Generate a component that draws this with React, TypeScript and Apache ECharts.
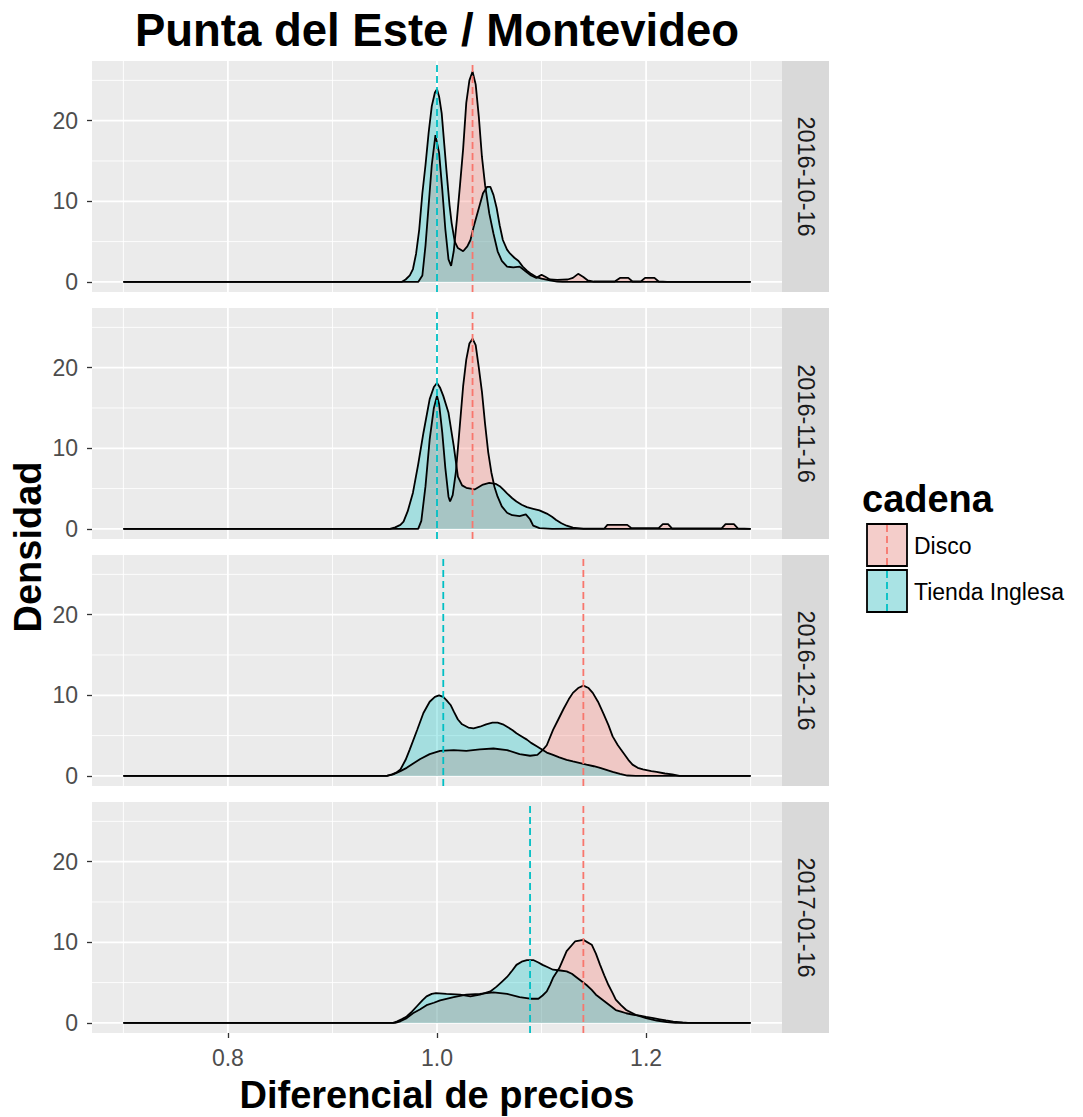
import React, { useEffect, useRef } from "react";
import * as echarts from "echarts";

// ---------- data ----------
const panels = ["2016-10-16", "2016-11-16", "2016-12-16", "2017-01-16"];
const chains = ["Disco", "Tienda Inglesa"];
const xTicks = [0.8, 1.0, 1.2];
const xMinor = [0.7, 0.9, 1.1, 1.3];
const yTicks = [0, 10, 20];
const yMinor = [5, 15, 25];
const meanDisco = [1.034, 1.034, 1.14, 1.14];
const meanTienda = [1.0, 1.0, 1.006, 1.089];

const disco1: number[][] = [
  [0.7, 0], [0.982, 0], [0.986, 0.8], [0.989, 4.5], [0.992, 9.5], [0.995, 14.5], [0.9985, 18.2],
  [1.002, 16.0], [1.005, 11.5], [1.008, 6.5], [1.011, 2.8], [1.0135, 2.0], [1.016, 3.8], [1.019, 7.7],
  [1.022, 12.0], [1.025, 16.5], [1.028, 22.2], [1.031, 25.0], [1.034, 26.1], [1.037, 24.5], [1.04, 20.5],
  [1.043, 15.5], [1.046, 12.0], [1.05, 8.5], [1.054, 6.0], [1.058, 3.8], [1.062, 2.6], [1.067, 1.9],
  [1.073, 1.8], [1.079, 1.9], [1.085, 1.3], [1.09, 0.8], [1.095, 0.5], [1.1, 0.9], [1.104, 0.6],
  [1.108, 0.3], [1.115, 0.25], [1.125, 0.3], [1.13, 0.5], [1.135, 1.0], [1.14, 0.6], [1.144, 0.2],
  [1.15, 0.05], [1.17, 0.05], [1.175, 0.5], [1.183, 0.5], [1.187, 0.05], [1.195, 0.05], [1.199, 0.5],
  [1.208, 0.5], [1.212, 0.05], [1.22, 0], [1.3, 0],
];
const tienda1: number[][] = [
  [0.7, 0], [0.966, 0], [0.97, 0.3], [0.974, 0.8], [0.977, 1.6], [0.98, 3.5], [0.983, 6.5], [0.986, 11.0],
  [0.989, 14.5], [0.992, 18.5], [0.995, 21.8], [0.998, 23.5], [1.0, 23.9], [1.002, 23.0], [1.0045, 20.9],
  [1.007, 17.0], [1.009, 13.9], [1.012, 9.5], [1.014, 7.3], [1.017, 5.0], [1.02, 4.2], [1.025, 3.8],
  [1.029, 4.4], [1.032, 5.2], [1.035, 6.8], [1.038, 8.2], [1.041, 9.6], [1.044, 11.0], [1.048, 11.8],
  [1.051, 11.8], [1.054, 10.8], [1.057, 9.2], [1.06, 7.0], [1.063, 5.2], [1.067, 4.0], [1.07, 3.5],
  [1.074, 3.0], [1.078, 2.6], [1.082, 1.9], [1.086, 1.4], [1.09, 1.0], [1.095, 0.6], [1.1, 0.4],
  [1.108, 0.2], [1.115, 0.05], [1.12, 0], [1.3, 0],
];
const disco2: number[][] = [
  [0.7, 0], [0.982, 0], [0.985, 1.0], [0.989, 5.3], [0.993, 11.1], [0.997, 15.0], [1.0, 16.5],
  [1.002, 15.5], [1.005, 12.0], [1.008, 7.5], [1.011, 4.0], [1.0125, 3.4], [1.015, 4.2], [1.018, 7.0],
  [1.021, 11.5], [1.025, 17.7], [1.028, 21.0], [1.031, 23.0], [1.034, 23.6], [1.037, 22.8], [1.04, 20.0],
  [1.043, 17.0], [1.046, 13.0], [1.049, 9.5], [1.052, 7.0], [1.055, 5.2], [1.058, 4.0], [1.062, 2.8],
  [1.067, 2.0], [1.072, 1.7], [1.079, 1.6], [1.085, 1.8], [1.089, 1.2], [1.092, 0.4], [1.098, 0.1],
  [1.11, 0], [1.16, 0.05], [1.163, 0.5], [1.182, 0.5], [1.186, 0.1], [1.212, 0.1], [1.216, 0.6],
  [1.221, 0.6], [1.225, 0.05], [1.272, 0.05], [1.276, 0.6], [1.284, 0.6], [1.288, 0.05], [1.3, 0],
];
const tienda2: number[][] = [
  [0.7, 0], [0.955, 0], [0.96, 0.2], [0.965, 0.5], [0.968, 0.9], [0.972, 2.2], [0.977, 4.5], [0.982, 8.0],
  [0.987, 11.9], [0.993, 16.1], [0.997, 17.6], [1.0, 18.1], [1.003, 17.5], [1.006, 16.5], [1.011, 14.4],
  [1.016, 10.3], [1.02, 6.5], [1.024, 5.4], [1.028, 5.1], [1.036, 4.9], [1.044, 5.5], [1.05, 5.7],
  [1.056, 5.6], [1.06, 5.3], [1.064, 4.8], [1.067, 4.4], [1.072, 3.8], [1.076, 3.4], [1.081, 3.0],
  [1.086, 2.7], [1.092, 2.5], [1.098, 2.3], [1.105, 1.9], [1.11, 1.5], [1.114, 1.1], [1.119, 0.7],
  [1.124, 0.4], [1.13, 0.15], [1.14, 0], [1.3, 0],
];
const disco3: number[][] = [
  [0.7, 0], [0.952, 0], [0.958, 0.2], [0.965, 0.6], [0.971, 1.0], [0.978, 1.6], [0.984, 2.1], [0.993, 2.7],
  [1.003, 3.1], [1.016, 3.2], [1.028, 3.1], [1.041, 3.3], [1.054, 3.4], [1.067, 3.2], [1.079, 2.7],
  [1.089, 2.5], [1.096, 2.6], [1.101, 3.2], [1.105, 3.8], [1.111, 5.7], [1.116, 7.0], [1.121, 8.3],
  [1.126, 9.5], [1.13, 10.3], [1.135, 10.9], [1.14, 11.2], [1.145, 10.9], [1.149, 10.3], [1.154, 9.2],
  [1.159, 7.8], [1.164, 6.3], [1.168, 4.9], [1.173, 3.8], [1.178, 2.9], [1.183, 2.0], [1.187, 1.4],
  [1.192, 1.0], [1.197, 0.8], [1.205, 0.6], [1.21, 0.5], [1.218, 0.3], [1.225, 0.2], [1.232, 0], [1.3, 0],
];
const tienda3: number[][] = [
  [0.7, 0], [0.952, 0], [0.957, 0.2], [0.961, 0.4], [0.965, 0.8], [0.97, 2.0], [0.974, 3.3], [0.981, 5.7],
  [0.987, 7.8], [0.993, 9.2], [0.998, 9.8], [1.002, 10.0], [1.006, 9.8], [1.009, 9.4], [1.013, 8.8],
  [1.016, 8.0], [1.02, 7.0], [1.024, 6.4], [1.03, 6.0], [1.035, 5.9], [1.041, 6.1], [1.047, 6.4],
  [1.053, 6.6], [1.058, 6.6], [1.063, 6.4], [1.067, 6.1], [1.072, 5.7], [1.076, 5.3], [1.081, 4.9],
  [1.086, 4.5], [1.09, 4.1], [1.095, 3.7], [1.1, 3.3], [1.105, 2.9], [1.111, 2.6], [1.117, 2.3],
  [1.124, 2.0], [1.13, 1.8], [1.137, 1.6], [1.143, 1.4], [1.15, 1.2], [1.156, 1.0], [1.162, 0.75],
  [1.168, 0.5], [1.175, 0.25], [1.182, 0.05], [1.19, 0], [1.3, 0],
];
const disco4: number[][] = [
  [0.7, 0], [0.96, 0], [0.965, 0.2], [0.971, 0.6], [0.977, 1.2], [0.984, 1.7], [0.99, 2.2], [0.997, 2.5],
  [1.003, 2.8], [1.016, 3.2], [1.028, 3.5], [1.041, 3.6], [1.054, 3.8], [1.067, 3.6], [1.079, 3.2],
  [1.089, 3.0], [1.097, 3.0], [1.101, 3.4], [1.105, 3.9], [1.108, 4.7], [1.111, 5.6], [1.117, 6.8],
  [1.124, 8.9], [1.132, 10.1], [1.14, 10.3], [1.148, 9.7], [1.152, 8.6], [1.156, 7.2], [1.16, 5.9],
  [1.164, 4.7], [1.168, 3.7], [1.171, 2.9], [1.176, 2.2], [1.181, 1.6], [1.19, 1.0], [1.2, 0.6],
  [1.21, 0.3], [1.22, 0.1], [1.228, 0], [1.3, 0],
];
const tienda4: number[][] = [
  [0.7, 0], [0.958, 0], [0.962, 0.2], [0.967, 0.5], [0.971, 0.8], [0.976, 1.4], [0.981, 2.1], [0.986, 2.8],
  [0.99, 3.3], [0.995, 3.6], [0.999, 3.7], [1.009, 3.6], [1.022, 3.5], [1.032, 3.3], [1.041, 3.5],
  [1.051, 3.9], [1.057, 4.5], [1.062, 5.1], [1.067, 5.7], [1.072, 6.5], [1.076, 7.2], [1.081, 7.6],
  [1.086, 7.8], [1.092, 7.8], [1.097, 7.5], [1.101, 7.2], [1.106, 6.9], [1.111, 6.6], [1.118, 6.5],
  [1.124, 6.4], [1.129, 6.1], [1.133, 5.7], [1.138, 5.2], [1.143, 4.7], [1.148, 4.1], [1.152, 3.5],
  [1.157, 3.0], [1.162, 2.5], [1.167, 2.0], [1.171, 1.6], [1.176, 1.4], [1.181, 1.2], [1.188, 1.0],
  [1.194, 0.9], [1.2, 0.75], [1.207, 0.6], [1.213, 0.45], [1.219, 0.3], [1.226, 0.15], [1.235, 0.05],
  [1.24, 0], [1.3, 0],
];
const discoData = [disco1, disco2, disco3, disco4];
const tiendaData = [tienda1, tienda2, tienda3, tienda4];

// ---------- layout / style ----------
const W = 1083;
const H = 1117;
const LEFT = 92;
const PW = 690;
const PH = 231;
const TOPS = [61, 308, 555, 802];
const STRIP_W = 47;
const X_MIN = 0.67;
const X_MAX = 1.33;
const Y_MIN = -1.25;
const Y_MAX = 27.4;
const FONT = "'Liberation Sans', Arial, Helvetica, sans-serif";
const PINK = "#F8766D";
const TEAL = "#00BFC4";
const PINK_FILL = "rgba(248,118,109,0.3)";
const TEAL_FILL = "rgba(0,191,196,0.3)";

const gridLineData = [
  ...xTicks.map((v) => [0, v, 1]),
  ...xMinor.map((v) => [0, v, 0]),
  ...yTicks.map((v) => [1, v, 1]),
  ...yMinor.map((v) => [1, v, 0]),
];

function renderGridLine(_params: any, api: any) {
  const o = api.value(0);
  const v = api.value(1);
  const major = api.value(2);
  const a = o === 0 ? api.coord([v, Y_MIN]) : api.coord([X_MIN, v]);
  const b = o === 0 ? api.coord([v, Y_MAX]) : api.coord([X_MAX, v]);
  return {
    type: "line",
    shape: { x1: a[0], y1: a[1], x2: b[0], y2: b[1] },
    style: { stroke: "#FFFFFF", lineWidth: major ? 1.8 : 0.9 },
    silent: true,
  };
}

export default function App() {
  const ref = useRef<HTMLDivElement>(null);

  useEffect(() => {
    if (!ref.current) return;
    const chart = echarts.init(ref.current, null, { renderer: "svg" });

    const grids = TOPS.map((t) => ({
      left: LEFT,
      top: t,
      width: PW,
      height: PH,
      show: true,
      backgroundColor: "#EBEBEB",
      borderWidth: 0,
      containLabel: false,
    }));

    const xAxes = TOPS.map((_, i) => ({
      gridIndex: i,
      type: "value",
      min: X_MIN,
      max: X_MAX,
      axisLine: { show: false, onZero: false },
      splitLine: { show: false },
      axisTick: {
        show: i === 3,
        customValues: xTicks,
        length: 5,
        lineStyle: { color: "#333333", width: 1.3 },
      },
      axisLabel: {
        show: i === 3,
        customValues: xTicks,
        formatter: (v: number) => v.toFixed(1),
        color: "#4D4D4D",
        fontSize: 23,
        fontFamily: FONT,
        margin: 13,
      },
    }));

    const yAxes = TOPS.map((_, i) => ({
      gridIndex: i,
      type: "value",
      min: Y_MIN,
      max: Y_MAX,
      axisLine: { show: false, onZero: false },
      splitLine: { show: false },
      axisTick: {
        show: true,
        customValues: yTicks,
        length: 5,
        lineStyle: { color: "#333333", width: 1.3 },
      },
      axisLabel: {
        show: true,
        customValues: yTicks,
        formatter: (v: number) => String(v),
        color: "#4D4D4D",
        fontSize: 23,
        fontFamily: FONT,
        margin: 14,
      },
    }));

    const series: any[] = [];
    TOPS.forEach((_, i) => {
      series.push({
        type: "custom",
        xAxisIndex: i,
        yAxisIndex: i,
        data: gridLineData,
        renderItem: renderGridLine,
        z: 1,
        silent: true,
      });
      series.push({
        name: chains[0],
        type: "line",
        xAxisIndex: i,
        yAxisIndex: i,
        data: discoData[i],
        symbol: "none",
        showSymbol: false,
        lineStyle: { color: "#000000", width: 1.8 },
        areaStyle: { color: PINK_FILL, opacity: 1 },
        z: 2,
        silent: true,
      });
      series.push({
        name: chains[1],
        type: "line",
        xAxisIndex: i,
        yAxisIndex: i,
        data: tiendaData[i],
        symbol: "none",
        showSymbol: false,
        lineStyle: { color: "#000000", width: 1.8 },
        areaStyle: { color: TEAL_FILL, opacity: 1 },
        z: 2,
        silent: true,
      });
      series.push({
        type: "line",
        xAxisIndex: i,
        yAxisIndex: i,
        data: [[meanDisco[i], Y_MIN], [meanDisco[i], Y_MAX]],
        symbol: "none",
        showSymbol: false,
        lineStyle: { color: PINK, width: 1.8, type: [7, 4] },
        z: 3,
        silent: true,
      });
      series.push({
        type: "line",
        xAxisIndex: i,
        yAxisIndex: i,
        data: [[meanTienda[i], Y_MIN], [meanTienda[i], Y_MAX]],
        symbol: "none",
        showSymbol: false,
        lineStyle: { color: TEAL, width: 1.8, type: [7, 4] },
        z: 3,
        silent: true,
      });
    });

    const graphic: any[] = [];
    // strips
    TOPS.forEach((t, i) => {
      graphic.push({
        type: "rect",
        shape: { x: LEFT + PW, y: t, width: STRIP_W, height: PH },
        style: { fill: "#D9D9D9" },
        silent: true,
      });
      graphic.push({
        type: "text",
        x: LEFT + PW + STRIP_W / 2,
        y: t + PH / 2,
        rotation: -Math.PI / 2,
        style: {
          text: panels[i],
          fill: "#1A1A1A",
          fontSize: 23.5,
          fontFamily: FONT,
          align: "center",
          verticalAlign: "middle",
        },
        silent: true,
      });
    });
    // title
    graphic.push({
      type: "text",
      x: LEFT + PW / 2,
      y: 30,
      style: {
        text: "Punta del Este / Montevideo",
        fill: "#000000",
        fontSize: 45.5,
        fontWeight: "bold",
        fontFamily: FONT,
        align: "center",
        verticalAlign: "middle",
      },
      silent: true,
    });
    // axis titles
    graphic.push({
      type: "text",
      x: LEFT + PW / 2,
      y: 1095,
      style: {
        text: "Diferencial de precios",
        fill: "#000000",
        fontSize: 38,
        fontWeight: "bold",
        fontFamily: FONT,
        align: "center",
        verticalAlign: "middle",
      },
      silent: true,
    });
    graphic.push({
      type: "text",
      x: 28,
      y: (TOPS[0] + TOPS[3] + PH) / 2,
      rotation: Math.PI / 2,
      style: {
        text: "Densidad",
        fill: "#000000",
        fontSize: 38,
        fontWeight: "bold",
        fontFamily: FONT,
        align: "center",
        verticalAlign: "middle",
      },
      silent: true,
    });
    // legend
    graphic.push({
      type: "text",
      x: 862,
      y: 499,
      style: {
        text: "cadena",
        fill: "#000000",
        fontSize: 38,
        fontWeight: "bold",
        fontFamily: FONT,
        align: "left",
        verticalAlign: "middle",
      },
      silent: true,
    });
    const keyFill = ["#F4CDCA", "#A9E3E4"];
    const keyLine = [PINK, TEAL];
    const keyTop = [524, 570];
    chains.forEach((c, i) => {
      graphic.push({
        type: "rect",
        shape: { x: 867, y: keyTop[i], width: 40, height: 42 },
        style: { fill: keyFill[i], stroke: "#000000", lineWidth: 1.8 },
        silent: true,
      });
      graphic.push({
        type: "line",
        shape: { x1: 887, y1: keyTop[i] + 1, x2: 887, y2: keyTop[i] + 41 },
        style: { stroke: keyLine[i], lineWidth: 1.8, lineDash: [7, 4] },
        silent: true,
      });
      graphic.push({
        type: "text",
        x: 914,
        y: keyTop[i] + 22,
        style: {
          text: c,
          fill: "#000000",
          fontSize: 23,
          fontFamily: FONT,
          align: "left",
          verticalAlign: "middle",
        },
        silent: true,
      });
    });

    chart.setOption({
      animation: false,
      backgroundColor: "#FFFFFF",
      grid: grids,
      xAxis: xAxes,
      yAxis: yAxes,
      series,
      graphic,
    });

    return () => {
      chart.dispose();
    };
  }, []);

  return (
    <div
      ref={ref}
      style={{ position: "fixed", left: 0, top: 0, width: W, height: H, background: "#FFFFFF" }}
    />
  );
}
